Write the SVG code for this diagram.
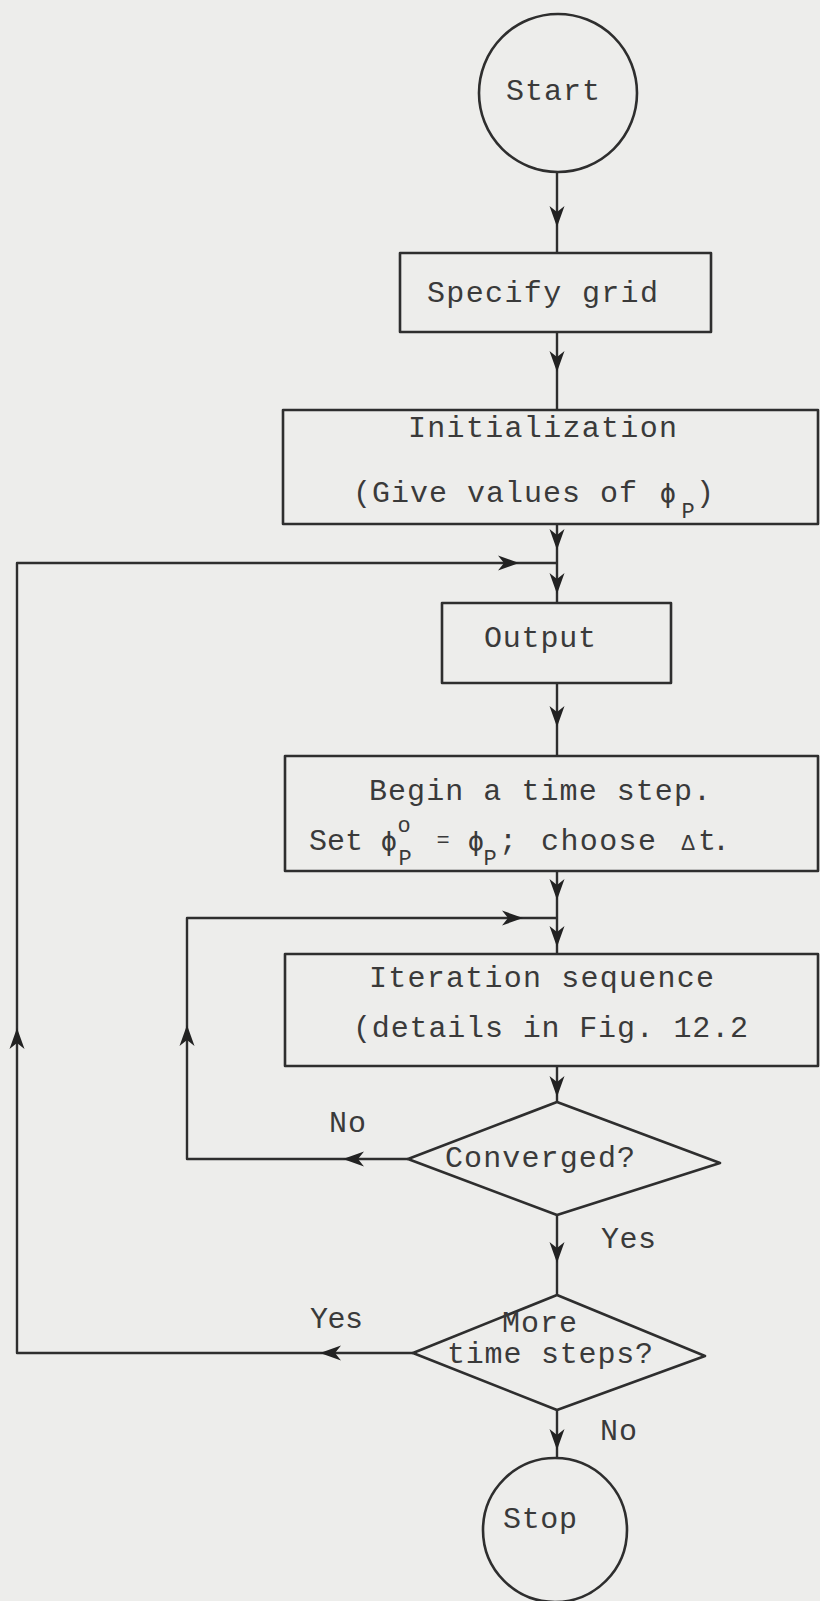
<svg xmlns="http://www.w3.org/2000/svg" xmlns:xlink="http://www.w3.org/1999/xlink" width="820" height="1601" viewBox="0 0 820 1601">
<style>
.bg{fill:#ededeb}
.shape{fill:none;stroke:#2e2e2e;stroke-width:2.6;stroke-linejoin:round}
.line{fill:none;stroke:#2e2e2e;stroke-width:2.4;stroke-linejoin:round}
.t{font-family:"Liberation Mono","DejaVu Sans Mono",monospace;font-size:30px;fill:#3a3a3a}
.s{font-family:"Liberation Mono","DejaVu Sans Mono",monospace;font-size:22px;fill:#3a3a3a}
.phi{font-family:"DejaVu Sans Mono","Liberation Mono",monospace;font-size:27px;fill:#3a3a3a}
.ah{fill:#222}
</style>
<defs>
<path id="ah" class="ah" d="M0,0 L-7.5,-21 L0,-15 L7.5,-21 Z"/>
</defs>
<rect class="bg" x="0" y="0" width="820" height="1601"/>

<g id="connectors">
<path class="line" d="M557,172 V253"/>
<path class="line" d="M557,332 V410"/>
<path class="line" d="M557,524 V603"/>
<path class="line" d="M413,1353 H17 V563 H557"/>
<path class="line" d="M557,683 V756"/>
<path class="line" d="M557,871 V955"/>
<path class="line" d="M408,1159 H187 V918 H557"/>
<path class="line" d="M557,1066 V1102"/>
<path class="line" d="M557,1215 V1295"/>
<path class="line" d="M557,1410 V1458"/>
<use xlink:href="#ah" transform="translate(557,227)"/>
<use xlink:href="#ah" transform="translate(557,372)"/>
<use xlink:href="#ah" transform="translate(557,550)"/>
<use xlink:href="#ah" transform="translate(557,594)"/>
<use xlink:href="#ah" transform="translate(519,563) rotate(-90)"/>
<use xlink:href="#ah" transform="translate(557,727)"/>
<use xlink:href="#ah" transform="translate(557,900)"/>
<use xlink:href="#ah" transform="translate(523,918) rotate(-90)"/>
<use xlink:href="#ah" transform="translate(557,947)"/>
<use xlink:href="#ah" transform="translate(557,1097)"/>
<use xlink:href="#ah" transform="translate(343,1159) rotate(90)"/>
<use xlink:href="#ah" transform="translate(187,1025) rotate(180)"/>
<use xlink:href="#ah" transform="translate(557,1263)"/>
<use xlink:href="#ah" transform="translate(320,1353) rotate(90)"/>
<use xlink:href="#ah" transform="translate(17,1028) rotate(180)"/>
<use xlink:href="#ah" transform="translate(557,1450)"/>
<text class="t" x="329" y="1132" textLength="37">No</text>
<text class="t" x="601" y="1248" textLength="55">Yes</text>
<text class="t" x="310" y="1328" textLength="53">Yes</text>
<text class="t" x="600" y="1440" textLength="37">No</text>
</g>

<g id="start">
<circle class="shape" cx="558" cy="93" r="79"/>
<text class="t" x="506" y="100" textLength="94">Start</text>
</g>

<g id="specify">
<rect class="shape" x="400" y="253" width="311" height="79"/>
<text class="t" x="427" y="302" textLength="231">Specify grid</text>
</g>

<g id="init">
<rect class="shape" x="283" y="410" width="535" height="114"/>
<text class="t" x="408" y="437" textLength="269">Initialization</text>
<text class="t" x="353" y="502" textLength="284">(Give values of</text>
<text class="phi" x="668" y="502" text-anchor="middle">ϕ</text>
<text class="s" x="688" y="518" text-anchor="middle">P</text>
<text class="t" x="705" y="502" text-anchor="middle">)</text>
</g>

<g id="output">
<rect class="shape" x="442" y="603" width="229" height="80"/>
<text class="t" x="484" y="647" textLength="112">Output</text>
</g>

<g id="begin">
<rect class="shape" x="285" y="756" width="533" height="115"/>
<text class="t" x="369" y="800" textLength="342">Begin a time step.</text>
<text class="t" x="309" y="850" textLength="54">Set</text>
<text class="phi" x="389" y="850" text-anchor="middle">ϕ</text>
<text class="s" x="404" y="832" text-anchor="middle" font-size="18">o</text>
<text class="s" x="405" y="865" text-anchor="middle">P</text>
<text class="s" x="443" y="847" text-anchor="middle">=</text>
<text class="phi" x="476" y="850" text-anchor="middle">ϕ</text>
<text class="s" x="490" y="865" text-anchor="middle">P</text>
<text class="t" x="508" y="850" text-anchor="middle">;</text>
<text class="t" x="541" y="850" textLength="115">choose</text>
<text class="s" x="688" y="850" text-anchor="middle">Δ</text>
<text class="t" x="698" y="850" textLength="32">t.</text>
</g>

<g id="iteration">
<rect class="shape" x="285" y="954" width="533" height="112"/>
<text class="t" x="369" y="987" textLength="345">Iteration sequence</text>
<text class="t" x="353" y="1037" textLength="395">(details in Fig. 12.2</text>
</g>

<g id="converged">
<path class="shape" d="M557,1102 L720,1163 L557,1215 L408,1159 Z"/>
<text class="t" x="445" y="1167" textLength="190">Converged?</text>
</g>

<g id="more">
<path class="shape" d="M557,1295 L705,1356 L557,1410 L413,1353 Z"/>
<text class="t" x="502" y="1332" textLength="75">More</text>
<text class="t" x="447" y="1363" textLength="206">time steps?</text>
</g>

<g id="stop">
<circle class="shape" cx="555" cy="1530" r="72"/>
<text class="t" x="503" y="1528" textLength="74">Stop</text>
</g>
</svg>
